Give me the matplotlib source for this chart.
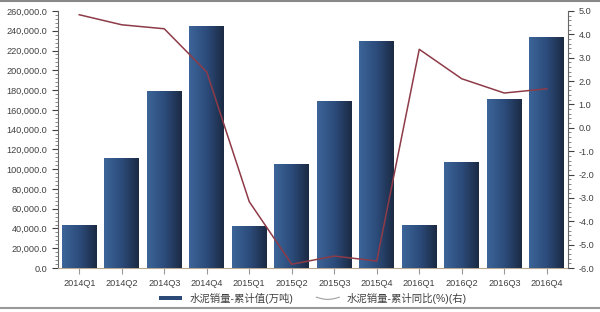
import numpy as np
import matplotlib.pyplot as plt
from matplotlib.ticker import MultipleLocator, FuncFormatter, AutoMinorLocator
from matplotlib.patches import Rectangle
from matplotlib.lines import Line2D
from matplotlib.legend_handler import HandlerPatch, HandlerLine2D
from matplotlib.colors import LinearSegmentedColormap

plt.rcParams['font.family'] = ['Liberation Sans', 'Noto Sans CJK SC', 'DejaVu Sans']

quarters = ['2014Q1', '2014Q2', '2014Q3', '2014Q4', '2015Q1', '2015Q2',
            '2015Q3', '2015Q4', '2016Q1', '2016Q2', '2016Q3', '2016Q4']
cum_sales = [43500, 111300, 179000, 244800, 42500, 105200,
             169000, 229600, 43500, 107200, 171300, 234000]
yoy_pct = [4.84, 4.41, 4.24, 2.39, -3.16, -5.84,
           -5.49, -5.70, 3.36, 2.10, 1.49, 1.67]
bar_label = '水泥销量-累计值(万吨)'
line_label = '水泥销量-累计同比(%)(右)'

text_col = '#404040'
line_col = '#8e3b48'

fig = plt.figure(figsize=(6, 3.12), dpi=100)
ax = fig.add_axes([58 / 600, 1 - 268 / 312, 510 / 600, 257 / 312])
ax2 = ax.twinx()

x = np.arange(len(quarters))
bars = ax.bar(x, cum_sales, width=0.82, color='#2b4a78', zorder=2)

# horizontal gradient inside each bar: light blue left -> dark navy right
grad = np.linspace(0, 1, 256).reshape(1, -1)
cmap = LinearSegmentedColormap.from_list('bar', ['#3d6599', '#2c4c7c', '#1b2a43'])
for b in bars:
    x0, w, h = b.get_x(), b.get_width(), b.get_height()
    im = ax.imshow(grad, cmap=cmap, aspect='auto', extent=[x0, x0 + w, 0, h],
                   zorder=3, interpolation='bicubic')
    im.set_clip_path(b)

ax2.plot(x, yoy_pct, color=line_col, lw=1.1, zorder=4)

ax.set_xlim(-0.5, len(quarters) - 0.5)
ax.set_ylim(0, 260000)
ax2.set_ylim(-6, 5)

ax.yaxis.set_major_locator(MultipleLocator(20000))
ax.yaxis.set_minor_locator(AutoMinorLocator(5))
ax.yaxis.set_major_formatter(FuncFormatter(lambda v, p: f'{v:,.1f}'))
ax2.yaxis.set_major_locator(MultipleLocator(1))
ax2.yaxis.set_minor_locator(AutoMinorLocator(5))
ax2.yaxis.set_major_formatter(FuncFormatter(lambda v, p: f'{v:.1f}'))

ax.set_xticks(x)
ax.set_xticklabels(quarters)

for a in (ax, ax2):
    a.spines['top'].set_visible(False)
    a.tick_params(labelsize=6.6, colors=text_col, length=4, width=0.8)
    a.tick_params(which='minor', length=2, width=0.6, colors='#777777')
ax.tick_params(axis='x', length=4, colors='#999999', labelcolor=text_col, pad=4)
ax.spines['left'].set_color('#666666')
ax.spines['bottom'].set_color('#b8a890')
ax2.spines['right'].set_color('#666666')
ax2.spines['left'].set_visible(False)
ax2.spines['bottom'].set_visible(False)
ax.spines['right'].set_visible(False)


# legend below the chart
class GradHandler(HandlerPatch):
    def create_artists(self, legend, orig, xd, yd, w, h, fs, trans):
        r = Rectangle((xd, yd + h * 0.2), w, h * 0.6, facecolor='#2b4a78',
                      edgecolor='none', transform=trans)
        return [r]


class WaveHandler(HandlerLine2D):
    def create_artists(self, legend, orig, xd, yd, w, h, fs, trans):
        t = np.linspace(0, 1, 40)
        ln = Line2D(xd + t * w, yd + h / 2 - np.sin(t * np.pi) * h * 0.3 + 0.5,
                    color='#a0a0a0', lw=0.8, transform=trans)
        return [ln]


bar_handle = Rectangle((0, 0), 1, 1, facecolor='#2b4a78')
line_handle = Line2D([], [], color='#a0a0a0', lw=0.8)
fig.legend([bar_handle, line_handle], [bar_label, line_label],
           loc='center', bbox_to_anchor=(313 / 600, 1 - 298 / 312), ncol=2,
           frameon=False, fontsize=7.5, handlelength=2.2, handletextpad=0.7,
           columnspacing=2.2, labelcolor=text_col,
           handler_map={Rectangle: GradHandler(), Line2D: WaveHandler()})

# frame lines top and bottom of the picture
fig.add_artist(Line2D([0, 1], [0.997, 0.997], color='#888888', lw=1.5, transform=fig.transFigure))
fig.add_artist(Line2D([0, 1], [0.012, 0.012], color='#999999', lw=1.5, transform=fig.transFigure))

fig.savefig('out.png', dpi=100)
